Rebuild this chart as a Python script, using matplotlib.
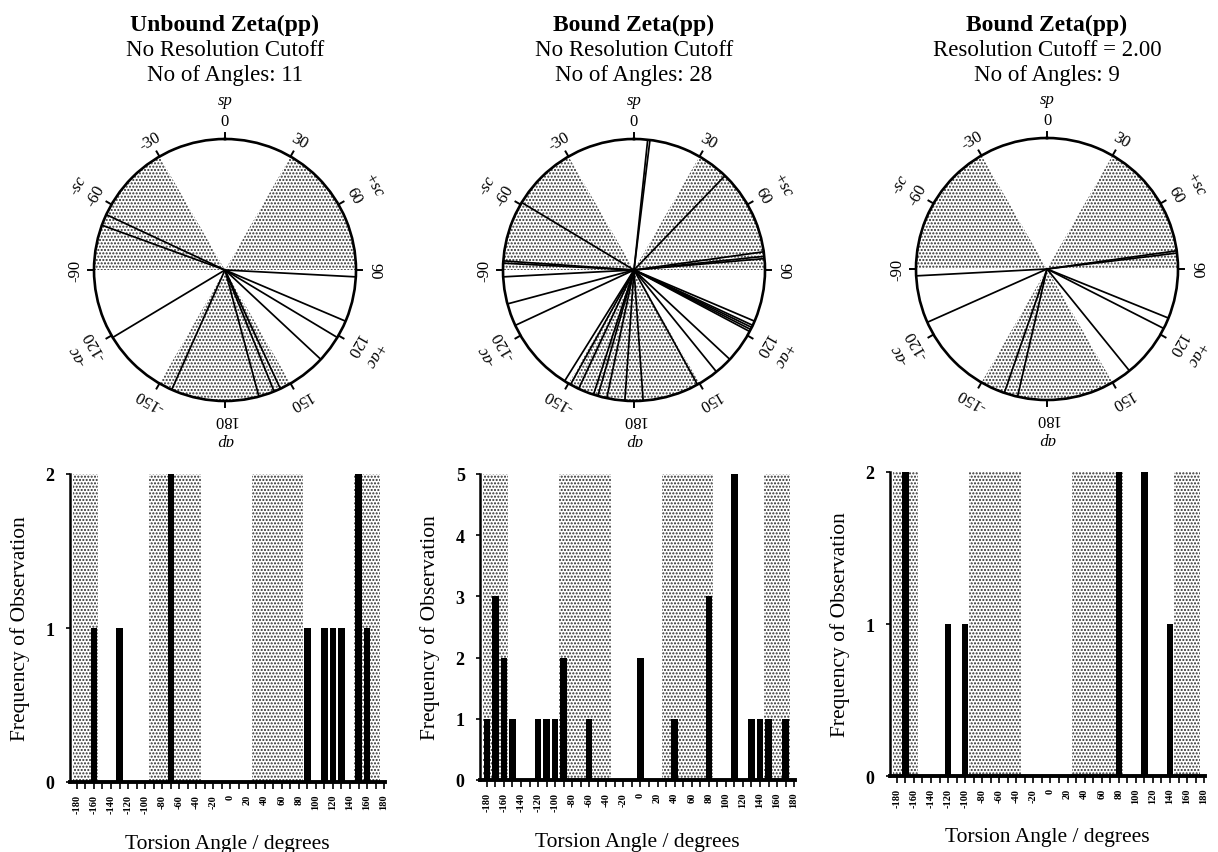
import numpy as np
import matplotlib
matplotlib.use("Agg")
import matplotlib.pyplot as plt

plt.rcParams['font.family'] = ['Liberation Serif', 'DejaVu Serif']
plt.rcParams['hatch.linewidth'] = 1.0
plt.rcParams['axes.linewidth'] = 1.8

# zeta torsion angles (degrees) for the three data sets
unbound_angles = [-156, -121, -70, -65, 93, 113, 121, 133, 155, 158, 165]
bound_angles = [-176, -168, -164, -162, -155, -151, -148, -115, -105, -93,
                -87, -86, -59, 6, 7, 44, 82, 84, 85, 113, 115, 116, 117,
                118, 133, 141, 151, 176]
bound_cut_angles = [-167, -161, -114, -93, 82, 83, 112, 117, 141]

titles = ["Unbound Zeta(pp)", "Bound Zeta(pp)", "Bound Zeta(pp)"]
subtitles = ["No Resolution Cutoff", "No Resolution Cutoff",
             "Resolution Cutoff = 2.00"]
freq_max = [2, 5, 2]

# stippled conformation ranges (sc-, sc+, ap)
wheel_regions = [(-90, -30), (30, 90), (150, 210)]
hist_regions = [(-180, -150), (-90, -30), (30, 90), (150, 180)]

wheel_ticks = [0, 30, 60, 90, 120, 150, 180, -150, -120, -90, -60, -30]
wheel_names = {0: 'sp', 60: '+sc', 120: '+ac', 180: 'ap', -120: '-ac', -60: '-sc'}

W, H = 1218, 853
fig = plt.figure(figsize=(W / 100, H / 100), dpi=100)


def px_box(left, top, width, height):
    return [left / W, 1 - (top + height) / H, width / W, height / H]


def wrap(deg):
    # polar axes here run 0..2pi, so fold negative angles round
    return np.radians(np.mod(deg, 360))


stipple = dict(facecolor='white', edgecolor='#2e2e2e', linewidth=0, hatch='.....')

all_angles = [unbound_angles, bound_angles, bound_cut_angles]
wheel_centres = [(225, 271), (634, 271), (1047, 270)]
hist_boxes = [(70, 475, 315, 308), (480, 475, 315, 306), (890, 473, 315, 304)]
R = 131

for i, angles in enumerate(all_angles):
    cx, cy = wheel_centres[i]

    # three-line heading
    fig.text(cx / W, 1 - 25 / H, titles[i], ha='center', va='center',
             fontsize=17, fontweight='bold')
    fig.text(cx / W, 1 - 50 / H, subtitles[i], ha='center', va='center', fontsize=16.5)
    fig.text(cx / W, 1 - 76 / H, "No of Angles: %d" % len(angles),
             ha='center', va='center', fontsize=16.5)

    # ---- torsion wheel ----
    ax = fig.add_axes(px_box(cx - R, cy - R, 2 * R, 2 * R), projection='polar')
    ax.set_theta_zero_location('N')
    ax.set_theta_direction(-1)
    for lo, hi in wheel_regions:
        ax.bar(wrap((lo + hi) / 2), 1, width=np.radians(hi - lo), bottom=0,
               zorder=1, **stipple)
    for a in angles:
        ax.plot([wrap(a)] * 2, [0, 1], color='black', lw=1.25, zorder=3)
    ax.set_xlim(0, 2 * np.pi)
    ax.set_ylim(0, 1)
    ax.set_yticks([])
    ax.set_xticks([])
    ax.grid(False)
    ax.spines['polar'].set_linewidth(1.9)
    for a in wheel_ticks:
        # short outward tick on the rim
        ax.plot([wrap(a)] * 2, [1, 1.045], color='black', lw=1.4, clip_on=False)
        ax.text(wrap(a), 1.14, str(a), rotation=-a, rotation_mode='anchor',
                ha='center', va='center', fontsize=12)
    for a, name in wheel_names.items():
        ax.text(wrap(a), 1.30, name, rotation=-a, rotation_mode='anchor',
                ha='center', va='center', fontsize=12, style='italic')

    # ---- frequency histogram, 10 degree bins drawn at their lower edge ----
    hx = fig.add_axes(px_box(*hist_boxes[i]))
    edges = np.arange(-180, 190, 10)
    counts, _ = np.histogram(angles, bins=edges)
    for lo, hi in hist_regions:
        hx.axvspan(lo - 5, hi - 5, zorder=0, **stipple)
    hx.bar(edges[:-1], counts, width=7.5, color='black', zorder=2)
    hx.set_xlim(-188, 181)
    hx.set_ylim(0, freq_max[i])
    hx.spines['top'].set_visible(False)
    hx.spines['right'].set_visible(False)
    hx.spines['bottom'].set_linewidth(2.8)
    hx.set_xticks(np.arange(-180, 181, 20))
    hx.set_xticks(np.arange(-180, 181, 10), minor=True)
    hx.set_xticklabels([str(v) for v in range(-180, 181, 20)], rotation=90,
                       fontsize=7.5, fontweight='bold')
    hx.tick_params(axis='x', which='both', direction='out', length=5, width=1.2)
    hx.set_yticks(range(freq_max[i] + 1))
    hx.set_yticklabels([str(v) for v in range(freq_max[i] + 1)],
                       fontsize=13, fontweight='bold')
    hx.tick_params(axis='y', direction='out', length=3, width=1.2, pad=8)
    hx.set_ylabel("Frequency of Observation", fontsize=15.5, va='center')
    hx.yaxis.set_label_coords(-0.16, 0.5)
    hx.set_xlabel("Torsion Angle / degrees", fontsize=15.5, va='center')
    hx.xaxis.set_label_coords(0.5, -0.2)

fig.savefig("out.png", dpi=100)
